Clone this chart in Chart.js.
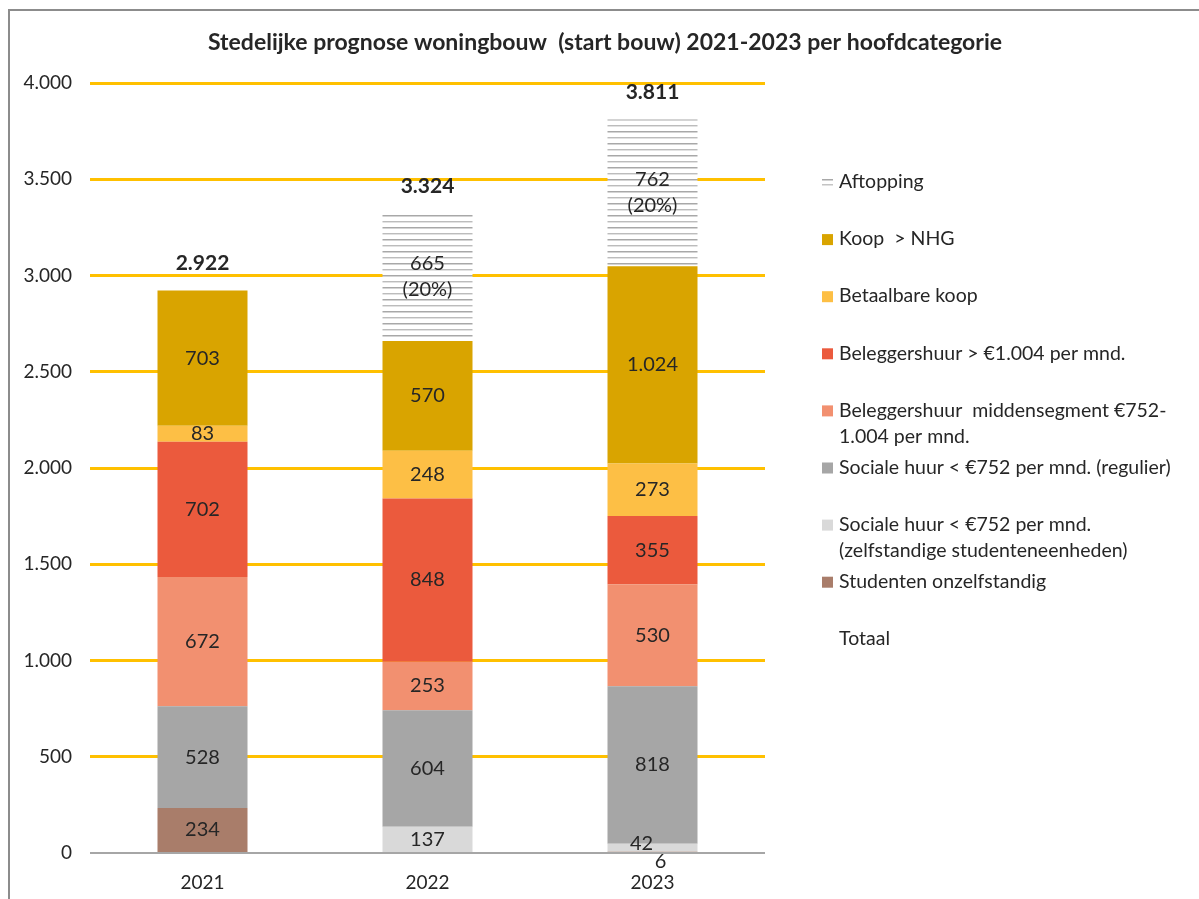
<!DOCTYPE html>
<html lang="nl">
<head>
  <meta charset="UTF-8" />
  <title>Stedelijke prognose woningbouw 2021-2023</title>
  <script src="https://cdn.jsdelivr.net/npm/chart.js"></script>
  <style>
    body { margin:0; background:#fff; }
    #frame { position:absolute; left:8px; top:9px; width:1191px; height:890px;
             border-left:2px solid #8c8c8c; border-top:2px solid #8c8c8c; }
    canvas { display:block; }
  </style>
</head>
<body>
<div id="frame"><canvas id="chart" width="1189" height="888"></canvas></div>

<script>
// ---- data ----
const years = ['2021', '2022', '2023'];

const studentenOnzelfstandig = [234, 0, 6];
const socialeStudent         = [0, 137, 42];
const socialeRegulier        = [528, 604, 818];
const middensegment          = [672, 253, 530];
const beleggersDuur          = [702, 848, 355];
const betaalbareKoop         = [83, 248, 273];
const koopNHG                = [703, 570, 1024];
const aftopping              = [0, 665, 762];
const totaal                 = [2922, 3324, 3811];

const yTicks = [0, 500, 1000, 1500, 2000, 2500, 3000, 3500, 4000];

const titel = 'Stedelijke prognose woningbouw  (start bouw) 2021-2023 per hoofdcategorie';

const seriesLabels = [
  'Studenten onzelfstandig',
  'Sociale huur < €752 per mnd.\n(zelfstandige studenteneenheden)',
  'Sociale huur < €752 per mnd. (regulier)',
  'Beleggershuur  middensegment €752-\n1.004 per mnd.',
  'Beleggershuur > €1.004 per mnd.',
  'Betaalbare koop',
  'Koop  > NHG',
  'Aftopping',
  'Totaal'
];

const FONT = 'Lato, "Noto Sans", sans-serif';
const TXT  = '#262626';

// gestreept patroon voor aftopping
function hatch() {
  const c = document.createElement('canvas');
  c.width = 4; c.height = 12;
  const g = c.getContext('2d');
  g.fillStyle = '#fff'; g.fillRect(0, 0, 4, 12);
  g.fillStyle = '#a8a8a8'; g.fillRect(0, 0, 4, 1);
  g.fillStyle = '#d4d4d4'; g.fillRect(0, 1, 4, 1);
  g.fillStyle = '#bcbcbc'; g.fillRect(0, 6, 4, 1);
  g.fillStyle = '#e2e2e2'; g.fillRect(0, 7, 4, 1);
  return document.getElementById('chart').getContext('2d').createPattern(c, 'repeat');
}

const dot = v => String(v).replace(/\B(?=(\d{3})+(?!\d))/g, '.');

const barSeries = [
  [studentenOnzelfstandig, '#a97d6a'],
  [socialeStudent,         '#d9d9d9'],
  [socialeRegulier,        '#a6a6a6'],
  [middensegment,          '#f29070'],
  [beleggersDuur,          '#eb5a3d'],
  [betaalbareKoop,         '#fdbf45'],
  [koopNHG,                '#d9a400'],
  [aftopping,              hatch()]
];

const datasets = barSeries.map(([d, clr], i) => ({
  type: 'bar',
  label: seriesLabels[i].replace('\n', ' '),
  data: d,
  backgroundColor: clr,
  borderWidth: 0,
  stack: 'bouw',
  categoryPercentage: 1,
  barPercentage: 0.4
}));
datasets.push({
  type: 'line',
  label: 'Totaal',
  data: totaal,
  stack: 'totaal',
  showLine: false,
  pointRadius: 0,
  borderColor: 'transparent'
});

// kleine segmenten: label verschuiven (dataset-index, categorie)
const labelShift = { '1-2': [-11, -4], '0-2': [8, 10] };

const labelsPlugin = {
  id: 'labels',
  afterDatasetsDraw(chart) {
    const ctx = chart.ctx;
    ctx.save();
    ctx.textAlign = 'center';
    ctx.textBaseline = 'middle';
    ctx.fillStyle = TXT;
    chart.data.datasets.forEach((ds, di) => {
      const meta = chart.getDatasetMeta(di);
      meta.data.forEach((el, i) => {
        const v = ds.data[i];
        if (!v) return;
        if (ds.type === 'line') {
          ctx.font = 'bold 21px ' + FONT;
          ctx.fillText(dot(v), el.x, el.y - 27);
          return;
        }
        const sh = labelShift[di + '-' + i] || [0, 0];
        const x = el.x + sh[0];
        const y = (el.y + el.base) / 2 + sh[1];
        ctx.font = '20px ' + FONT;
        if (di === 7) {
          const pct = Math.round(v / totaal[i] * 100);
          ctx.fillText(dot(v), x, y - 13);
          ctx.fillText('(' + pct + '%)', x, y + 13);
        } else {
          ctx.fillText(dot(v), x, y);
        }
      });
    });
    ctx.restore();
  }
};

const legendPlugin = {
  id: 'sideLegend',
  afterDraw(chart) {
    const ctx = chart.ctx;
    ctx.save();
    // titel
    ctx.font = 'bold 23px ' + FONT;
    ctx.textAlign = 'center';
    ctx.textBaseline = 'middle';
    ctx.fillStyle = TXT;
    ctx.fillText(titel, 595, 32);
    // legenda
    ctx.font = '19.5px ' + FONT;
    ctx.textAlign = 'left';
    const order = [7, 6, 5, 4, 3, 2, 1, 0, 8];
    order.forEach((di, k) => {
      const y = 171 + k * 57.1;
      const ds = chart.data.datasets[di];
      if (di === 7) {
        ctx.fillStyle = '#a8a8a8'; ctx.fillRect(812, y - 3, 11, 1.5);
        ctx.fillStyle = '#c4c4c4'; ctx.fillRect(812, y + 2, 11, 1.5);
      } else if (di !== 8) {
        ctx.fillStyle = ds.backgroundColor;
        ctx.fillRect(812, y - 5, 11, 11);
      }
      ctx.fillStyle = TXT;
      seriesLabels[di].split('\n').forEach((line, j) => ctx.fillText(line, 829, y + j * 26));
    });
    ctx.restore();
  }
};

new Chart(document.getElementById('chart'), {
  data: { labels: years, datasets },
  plugins: [labelsPlugin, legendPlugin],
  options: {
    responsive: false,
    animation: false,
    events: [],
    layout: { padding: { left: 0, right: 434, top: 72, bottom: 6 } },
    plugins: {
      legend: { display: false },
      tooltip: { enabled: false },
      title: { display: false }
    },
    scales: {
      x: {
        stacked: true,
        afterFit: s => { s.height = 40; },
        grid: { display: false, drawTicks: false },
        border: { display: false },
        ticks: { color: TXT, font: { family: FONT, size: 19 }, padding: 18 }
      },
      y: {
        stacked: true,
        min: 0,
        max: 4000,
        afterFit: s => { s.width = 80; },
        afterBuildTicks: s => { s.ticks = yTicks.map(v => ({ value: v })); },
        border: { display: false },
        grid: {
          drawTicks: false,
          color: c => c.tick.value === 0 ? '#a6a6a6' : '#ffc000',
          lineWidth: c => c.tick.value === 0 ? 2 : 3
        },
        ticks: {
          color: TXT,
          font: { family: FONT, size: 19 },
          padding: 18,
          callback: v => dot(v)
        }
      }
    }
  }
});
</script>
</body>
</html>
